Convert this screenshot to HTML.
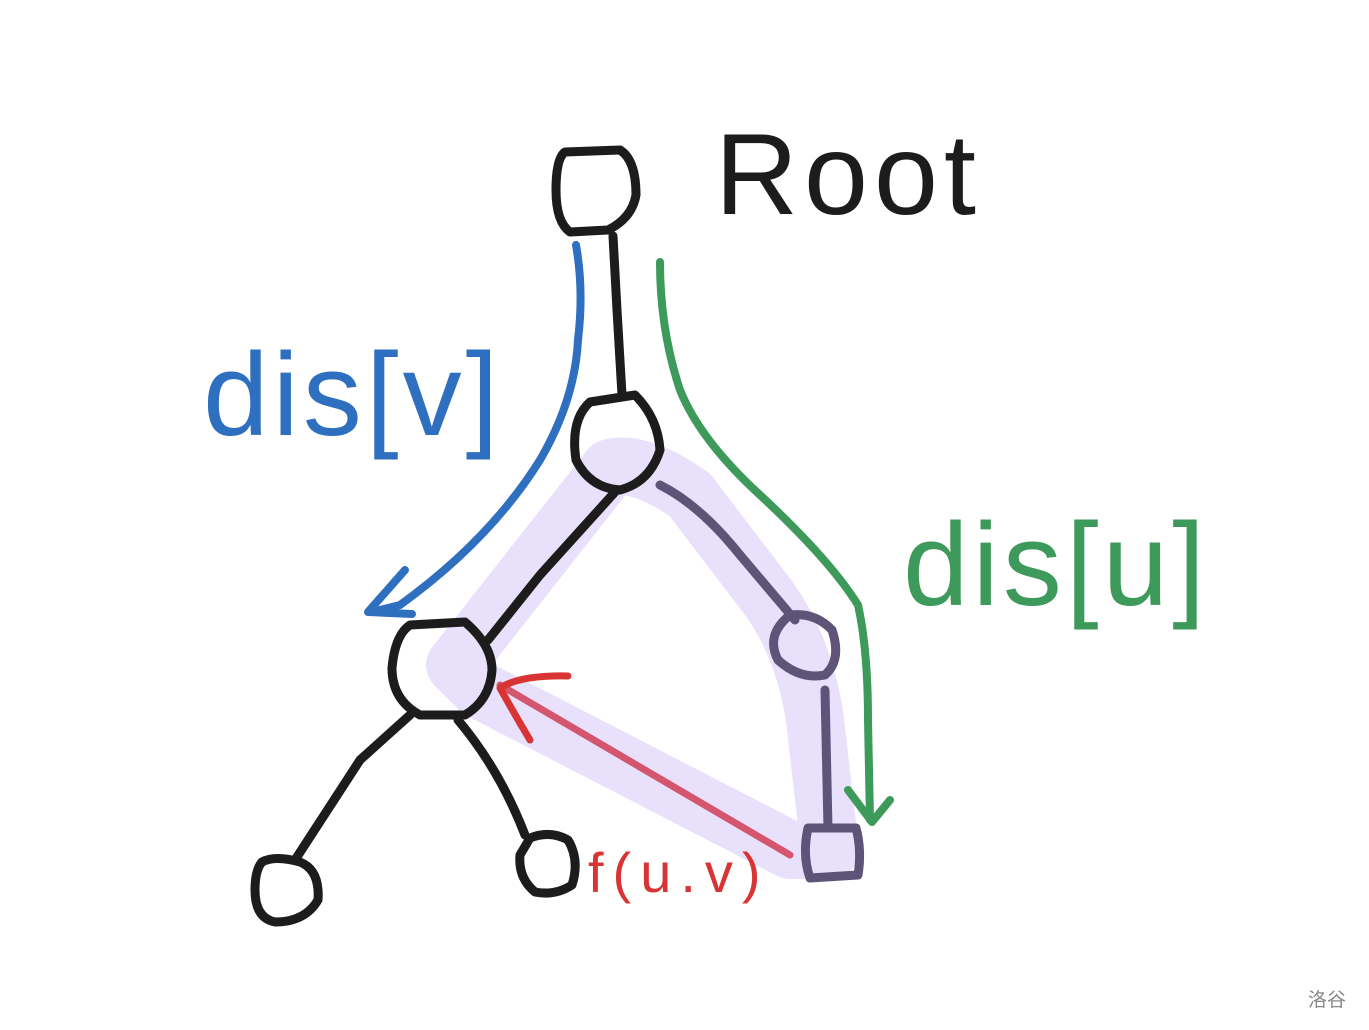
<!DOCTYPE html>
<html><head><meta charset="utf-8"><style>
html,body{margin:0;padding:0;background:#fff;}
svg{display:block}
</style></head><body>
<svg width="1369" height="1030" viewBox="0 0 1369 1030" xmlns="http://www.w3.org/2000/svg">
<rect width="1369" height="1030" fill="#fff"/>
<path d="M455,665 L610,468 Q640,460 690,495 L770,600 Q805,650 815,720 L830,850 L790,850 L480,690 Z" fill="none" stroke="#e9e1fb" stroke-width="58" stroke-linejoin="round" stroke-linecap="round"/>
<g fill="none" stroke-linecap="round" stroke-linejoin="round">
<g stroke="#1c1c1c" stroke-width="9">
<path d="M613,236 L617,310 L622,395"/>
<path d="M615,492 L540,575 L488,640"/>
<path d="M410,715 L360,760 L295,860"/>
<path d="M458,720 Q500,770 525,835"/>
<path d="M565,152 L620,150 Q636,160 636,195 Q632,218 608,230 L570,232 Q556,222 556,190 Q556,158 565,152 Z"/>
<path d="M590,402 L635,395 Q658,418 660,450 Q650,482 620,490 Q590,488 576,460 Q570,420 590,402 Z"/>
<path d="M410,625 L465,622 Q492,645 492,670 Q490,700 465,715 L420,715 Q392,700 392,668 Q395,635 410,625 Z"/>
<path d="M262,862 Q275,855 300,862 Q320,870 318,900 Q305,922 275,922 Q255,918 255,890 Q255,870 262,862 Z"/>
<path d="M530,838 Q550,830 568,840 Q580,860 572,885 Q555,896 535,892 Q518,878 520,855 Z"/>
</g>
<g stroke="#5e5478" stroke-width="9">
<path d="M660,485 Q700,505 740,555 L795,620"/>
<path d="M790,615 Q815,612 832,630 Q842,660 825,675 Q800,680 778,660 Q765,635 790,615 Z"/>
<path d="M825,690 L828,828"/>
<path d="M808,828 L856,828 Q862,850 858,875 L810,878 Q802,855 808,828 Z"/>
</g>
<g stroke="#2f6fc0" stroke-width="8">
<path d="M576,245 Q584,290 578,340 Q575,400 540,460 Q490,540 400,605 L372,612"/>
<path d="M405,570 L368,612 L412,614"/>
</g>
<g stroke="#3d9a5a" stroke-width="8">
<path d="M660,262 Q660,330 680,390 Q700,440 760,495 Q830,560 858,605 Q868,650 868,720 L870,820"/>
<path d="M848,790 L872,822 L890,800"/>
</g>
<g stroke="#d4566e" stroke-width="7">
<path d="M790,855 L500,685"/>
</g>
<g stroke="#d93434" stroke-width="7">
<path d="M568,676 Q520,675 500,688 Q515,715 530,740"/>
</g>
</g>
<text x="715" y="214" font-family="Liberation Sans, sans-serif" font-size="115" fill="#1c1c1c" letter-spacing="6">Root</text>
<text x="203" y="435" font-family="Liberation Sans, sans-serif" font-size="118" fill="#2f6fc0" letter-spacing="4">dis[v]</text>
<text x="903" y="605" font-family="Liberation Sans, sans-serif" font-size="118" fill="#3d9a5a" letter-spacing="4">dis[u]</text>
<text x="588" y="892" font-family="Liberation Sans, sans-serif" font-size="56" fill="#d93434" letter-spacing="9">f(u.v)</text>
<text x="1308" y="1006" font-family="Liberation Sans, 'Noto Sans CJK SC', sans-serif" font-size="19" fill="#888">洛谷</text>
</svg>
</body></html>
